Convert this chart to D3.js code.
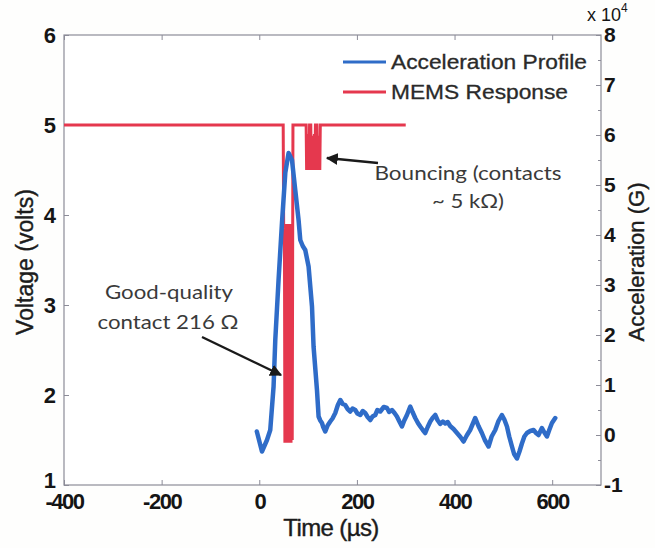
<!DOCTYPE html>
<html>
<head>
<meta charset="utf-8">
<script src="https://cdn.jsdelivr.net/npm/d3@7"></script>
<style>
  html, body { margin: 0; padding: 0; background: #fefefd; }
  svg { display: block; }
  .tick text { font-family: "Liberation Sans", Arial, sans-serif; font-weight: bold; fill: #151515; }
  .domain { stroke: none; }
  .tick line { stroke: #8c8c98; stroke-width: 1; }
</style>
</head>
<body>
<svg id="chart" width="655" height="548"></svg>
<script>
// Acceleration profile (G) over time (µs)
const accelTime = [-5, 5.5, 15.8, 22.5, 29.3, 32.8, 39.5, 46.5, 53.3, 60, 67, 73.7, 80.5, 84, 89, 94.2, 101, 108, 111.2, 118.2, 121.5, 125, 128.4, 131, 135.2,
  140, 145.4, 150, 155.7, 161, 166, 171, 176, 181, 186.4, 191, 196.6, 201, 206.9, 212, 217, 222, 227.4, 232, 237.6, 242, 247.8, 255, 261.6, 266, 271.8, 277, 282, 287, 292.3, 297, 302.5, 309.3, 314, 319.5, 325, 329.8, 335, 340,
  345, 350.3, 355, 360.5, 365, 370.7, 376, 381, 386, 391, 398, 405, 412, 418.5, 425, 432, 442.4, 449, 456, 462, 469.7, 476, 483.4, 490, 497, 502, 507.4, 512, 517.6, 522, 527.9, 533, 538, 543, 548.3, 555, 561.9, 567, 572, 579, 584, 589.3, 594, 599.5, 606.3];
const accelG = [700, -3300, -1000, 1000, 9700, 19000, 31000, 42400, 52400, 56400, 55000, 49000, 43000, 39000, 37800, 37000, 33700, 25700, 17700, 9000, 3700, 2900, 2400, 1600, 700,
  1900, 2700, 3300, 4400, 6000, 7000, 6200, 6000, 5200, 4700, 5300, 5000, 4300, 4000, 4800, 4400, 3600, 3000, 3700, 4000, 5000, 4700, 5600, 5400, 4600, 5000, 4400, 3700, 2700, 1700, 2900, 4000, 5700, 4600, 3400, 2400, 1700, 1000, 400,
  1600, 2700, 3400, 4000, 3000, 2200, 2700, 2300, 2600, 1800, 1200, 400, -400, -1300, -100, 1000, 3400, 1800, 400, -1000, -2300, -300, 1000, 2800, 4000, 3100, 1700, -300, -2300, -3800, -4700, -3300, -1700, -300, 400, 800, 1000, 400, 0, 1400, 500, -300, 1000, 2400, 3400];

// MEMS switch output (V) over time (µs)
const memsTime = [-400, 49,
  50, 51.5, 52.5, 54, 55, 56.5, 57.5, 59, 60, 61.5, 62.5, 64, 65, 66.5, 67.5, 68.5, 69,
  96, 97, 98.5, 99.5, 101, 102, 103, 105.5, 106.5, 108, 109, 110.5, 111.5, 113, 114, 115, 118, 119, 120.5, 121.5, 123, 124, 125,
  300];
const memsVolts = [5.0, 5.0,
  3.85, 3.9, 1.47, 3.9, 1.47, 3.85, 1.47, 3.9, 1.47, 3.85, 1.47, 3.9, 1.47, 3.85, 1.5, 3.9, 5.0,
  5.0, 4.5, 4.9, 4.5, 4.85, 4.5, 5.0, 5.0, 4.5, 4.88, 4.5, 4.85, 4.5, 4.9, 4.5, 5.0, 5.0, 4.5, 4.88, 4.5, 4.85, 4.5, 5.0,
  5.0];

const timeTicks = [-400, -200, 0, 200, 400, 600];
const voltTicks = [1, 2, 3, 4, 5, 6];
const accelTicks = [-10000, 0, 10000, 20000, 30000, 40000, 50000, 60000, 70000, 80000];

const seriesNames = ["Acceleration Profile", "MEMS Response"];
const seriesColors = ["#2f6cc8", "#e5384e"];

const svg = d3.select("#chart");
const plot = { left: 64, right: 601, top: 35, bottom: 485 };

const x = d3.scaleLinear().domain([-400, 700]).range([plot.left, plot.right]);
const yV = d3.scaleLinear().domain([1, 6]).range([plot.bottom, plot.top]);
const yA = d3.scaleLinear().domain([-10000, 80000]).range([plot.bottom, plot.top]);

// plot area
svg.append("rect")
  .attr("x", plot.left).attr("y", plot.top)
  .attr("width", plot.right - plot.left).attr("height", plot.bottom - plot.top)
  .attr("fill", "#ffffff");

// axes
const fmt = d => String(d);
svg.append("g").attr("transform", `translate(0,${plot.bottom})`)
  .call(d3.axisBottom(x).tickValues(timeTicks).tickFormat(fmt).tickSize(-5).tickPadding(8))
  .call(g => g.selectAll("text").attr("font-size", 22).attr("letter-spacing", -1.5));
svg.append("g").attr("transform", `translate(0,${plot.top})`)
  .call(d3.axisTop(x).tickValues(timeTicks).tickFormat("").tickSize(-5));
svg.append("g").attr("transform", `translate(${plot.left},0)`)
  .call(d3.axisLeft(yV).tickValues(voltTicks).tickFormat(fmt).tickSize(-5).tickPadding(8))
  .call(g => g.selectAll("text").attr("font-size", 22))
  // the lowest label sits a little higher so it clears the time labels
  .call(g => g.selectAll(".tick").filter(d => d === 1).select("text").attr("dy", "0.1em"));
svg.append("g").attr("transform", `translate(${plot.right},0)`)
  .call(d3.axisRight(yA).tickValues(d3.range(-10000, 80001, 5000)).tickFormat("").tickSize(-3));
svg.append("g").attr("transform", `translate(${plot.right},0)`)
  .call(d3.axisRight(yA).tickValues(accelTicks).tickFormat(d => fmt(d / 10000)).tickSize(-5).tickPadding(3))
  .call(g => g.selectAll("text").attr("font-size", 21));

// frame
svg.append("rect")
  .attr("x", plot.left).attr("y", plot.top)
  .attr("width", plot.right - plot.left).attr("height", plot.bottom - plot.top)
  .attr("fill", "none").attr("stroke", "#8c8c98").attr("stroke-width", 1.2);

// series
const memsLine = d3.line().x((d, i) => x(memsTime[i])).y(d => yV(d));
svg.append("path").datum(memsVolts)
  .attr("d", memsLine)
  .attr("fill", "none").attr("stroke", seriesColors[1]).attr("stroke-width", 3)
  .attr("stroke-linejoin", "miter").attr("stroke-miterlimit", 2);

const accelLine = d3.line().x((d, i) => x(accelTime[i])).y(d => yA(d)).curve(d3.curveLinear);
svg.append("path").datum(accelG)
  .attr("d", accelLine)
  .attr("fill", "none").attr("stroke", seriesColors[0]).attr("stroke-width", 4.5)
  .attr("stroke-linejoin", "round").attr("stroke-linecap", "round");

// multiplier above right axis
const mult = svg.append("text").attr("x", 587).attr("y", 21)
  .attr("font-family", "Liberation Sans, Arial, sans-serif").attr("font-size", 18).attr("fill", "#151515");
mult.append("tspan").text("x 10");
mult.append("tspan").attr("dy", -9).attr("font-size", 12).text("4");

// axis titles
const titleFont = "Liberation Sans, Arial, sans-serif";
svg.append("text").attr("transform", "translate(33,262) rotate(-90)")
  .attr("text-anchor", "middle").attr("font-family", titleFont).attr("font-size", 23)
  .attr("fill", "#1c1c1c").attr("stroke", "#1c1c1c").attr("stroke-width", 0.4)
  .text("Voltage (volts)");
svg.append("text").attr("transform", "translate(644,262) rotate(-90)")
  .attr("text-anchor", "middle").attr("font-family", titleFont).attr("font-size", 22)
  .attr("fill", "#1c1c1c").attr("stroke", "#1c1c1c").attr("stroke-width", 0.4)
  .text("Acceleration (G)");
svg.append("text").attr("x", 331).attr("y", 536)
  .attr("text-anchor", "middle").attr("font-family", titleFont).attr("font-size", 24)
  .attr("letter-spacing", -0.6)
  .attr("fill", "#1c1c1c").attr("stroke", "#1c1c1c").attr("stroke-width", 0.4)
  .text("Time (µs)");

// legend
const legend = svg.append("g");
seriesNames.forEach((name, i) => {
  const ly = 62 + i * 30;
  legend.append("line").attr("x1", 343).attr("x2", 386).attr("y1", ly).attr("y2", ly)
    .attr("stroke", seriesColors[i]).attr("stroke-width", 3);
  legend.append("text").attr("x", 391).attr("y", ly + 7)
    .attr("font-family", titleFont).attr("font-size", 20)
    .attr("textLength", i === 0 ? 196 : 177).attr("lengthAdjust", "spacingAndGlyphs")
    .attr("fill", "#2a2a2a").attr("stroke", "#2a2a2a").attr("stroke-width", 0.3)
    .text(name);
});

// annotations
const defs = svg.append("defs");
defs.append("marker").attr("id", "head").attr("viewBox", "0 0 10 10")
  .attr("refX", 9).attr("refY", 5).attr("markerWidth", 5).attr("markerHeight", 5)
  .attr("orient", "auto")
  .append("path").attr("d", "M0,0 L10,5 L0,10 Z").attr("fill", "#1a1a1a");

const noteFont = "Lato, 'Open Sans', sans-serif";
function note(lines) {
  lines.forEach(l => {
    svg.append("text").attr("x", l.x).attr("y", l.y).attr("text-anchor", "middle")
      .attr("font-family", noteFont).attr("font-size", 19).attr("fill", "#3a3a3a")
      .attr("textLength", l.w).attr("lengthAdjust", "spacingAndGlyphs")
      .text(l.t);
  });
}
note([
  { t: "Good-quality", x: 169, y: 299, w: 128 },
  { t: "contact 216 Ω", x: 168, y: 329, w: 141 },
  { t: "Bouncing (contacts", x: 468, y: 180, w: 187 },
  { t: "~ 5 kΩ)", x: 468, y: 208, w: 72 }
]);

svg.append("line").attr("x1", 202).attr("y1", 337).attr("x2", 281).attr("y2", 375)
  .attr("stroke", "#1a1a1a").attr("stroke-width", 2.4).attr("marker-end", "url(#head)");
svg.append("line").attr("x1", 378).attr("y1", 163).attr("x2", 327).attr("y2", 158)
  .attr("stroke", "#1a1a1a").attr("stroke-width", 2.4).attr("marker-end", "url(#head)");
</script>
</body>
</html>
